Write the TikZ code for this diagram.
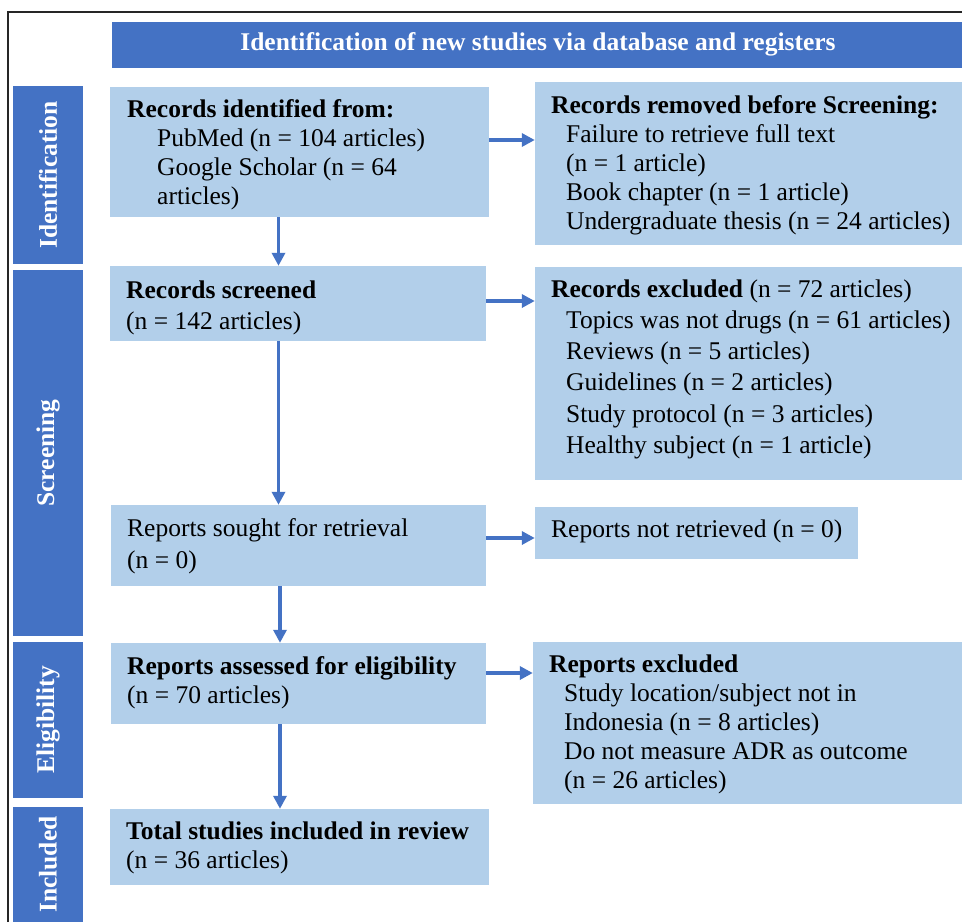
\documentclass[tikz,border=0pt]{standalone}
\usepackage{fontspec}
\setmainfont{Liberation Serif}
\usetikzlibrary{arrows.meta}
\definecolor{dblue}{HTML}{4472C4}
\definecolor{lblue}{RGB}{178,207,234}
\newcommand{\ind}[1]{\hspace*{#1pt}}
\newcommand{\fs}[1]{\fontsize{25.5}{#1}\selectfont}
\begin{document}
\begin{tikzpicture}[x=1pt,y=-1pt,
  lbox/.style={draw=none,fill=lblue,inner sep=0pt},
  dbox/.style={draw=none,fill=dblue,inner sep=0pt,minimum width=70pt},
  side/.style={text=white,font=\fs{29}\bfseries,rotate=90,inner sep=0pt},
  txt/.style={anchor=base west,inner sep=0pt,align=left},
  arr/.style={draw=dblue,line width=3.5pt,-{Triangle[length=13pt,width=13pt]}}]
\useasboundingbox (0,0) rectangle (962,922);
\fill[white] (0,0) rectangle (962,922);
% frame
\draw[line width=2pt,black!85] (8,922) -- (8,12) -- (962,12);
% header
\node[dbox,minimum width=850pt,minimum height=46pt] (hdr) at (537,45) {};
\node[text=white,font=\fs{29}\bfseries,inner sep=0pt] (hdrt) at (538,44) {Identification of new studies via database and registers};
% side bars
\node[dbox,minimum height=178pt] (s1) at (48,175) {};
\node[dbox,minimum height=366pt] (s2) at (48,453) {};
\node[dbox,minimum height=156pt] (s3) at (48,720) {};
\node[dbox,minimum height=115pt] (s4) at (48,864.5) {};
\node[side] (s1t) at (48,175) {Identification};
\node[side] (s2t) at (48,453) {Screening};
\node[side] (s3t) at (48,720) {Eligibility};
\node[side] (s4t) at (48,864.5) {Included};
% left boxes
\node[lbox,minimum width=379pt,minimum height=130pt] (b1) at (299.5,152) {};
\node[lbox,minimum width=376pt,minimum height=75pt] (b2) at (298,303.5) {};
\node[lbox,minimum width=375pt,minimum height=81pt] (b3) at (298.5,545.5) {};
\node[lbox,minimum width=375pt,minimum height=81pt] (b4) at (298.5,683.5) {};
\node[lbox,minimum width=379pt,minimum height=76pt] (b5) at (299.5,847) {};
% right boxes
\node[lbox,minimum width=427pt,minimum height=163pt] (r1) at (748.5,163.5) {};
\node[lbox,minimum width=427pt,minimum height=213pt] (r2) at (748.5,373.5) {};
\node[lbox,minimum width=323pt,minimum height=52pt] (r3) at (696.5,533) {};
\node[lbox,minimum width=429pt,minimum height=162pt] (r4) at (747.5,723) {};
% texts
\node[txt] (t1) at (127,117) {\fs{29}\begin{tabular}[t]{@{}l@{}}
\textbf{Records identified from:}\\
\ind{30}PubMed (n = 104 articles)\\
\ind{30}Google Scholar (n = 64\\
\ind{30}articles)\end{tabular}};
\node[txt] (t2) at (126,298) {\fs{31}\begin{tabular}[t]{@{}l@{}}
\textbf{Records screened}\\
(n = 142 articles)\end{tabular}};
\node[txt] (t3) at (127,536) {\fs{32}\begin{tabular}[t]{@{}l@{}}
Reports sought for retrieval\\
(n = 0)\end{tabular}};
\node[txt] (t4) at (127,674) {\fs{29}\begin{tabular}[t]{@{}l@{}}
\textbf{Reports assessed for eligibility}\\
(n = 70 articles)\end{tabular}};
\node[txt] (t5) at (126,839) {\fs{29}\begin{tabular}[t]{@{}l@{}}
\textbf{Total studies included in review}\\
(n = 36 articles)\end{tabular}};
\node[txt] (rt1) at (551,113) {\fs{29}\begin{tabular}[t]{@{}l@{}}
\textbf{Records removed before Screening:}\\
\ind{15}Failure to retrieve full text\\
\ind{15}(n = 1 article)\\
\ind{15}Book chapter (n = 1 article)\\
\ind{15}Undergraduate thesis (n = 24 articles)\end{tabular}};
\node[txt] (rt2) at (551,297) {\fs{31.3}\begin{tabular}[t]{@{}l@{}}
\textbf{Records excluded} (n = 72 articles)\\
\ind{15}Topics was not drugs (n = 61 articles)\\
\ind{15}Reviews (n = 5 articles)\\
\ind{15}Guidelines (n = 2 articles)\\
\ind{15}Study protocol (n = 3 articles)\\
\ind{15}Healthy subject (n = 1 article)\end{tabular}};
\node[txt] (rt3) at (551,537) {\fs{29}Reports not retrieved (n = 0)};
\node[txt] (rt4) at (549,672) {\fs{29}\begin{tabular}[t]{@{}l@{}}
\textbf{Reports excluded}\\
\ind{15}Study location/subject not in\\
\ind{15}Indonesia (n = 8 articles)\\
\ind{15}Do not measure ADR as outcome\\
\ind{15}(n = 26 articles)\end{tabular}};
% vertical arrows
\draw[arr] ([xshift=-21pt]b1.south) -- ([xshift=-21pt]b1.south |- b2.north);
\draw[arr] ([xshift=-19.5pt]b2.south) -- ([xshift=-19.5pt]b2.south |- b3.north);
\draw[arr] ([xshift=-18.5pt]b3.south) -- ([xshift=-18.5pt]b3.south |- b4.north);
\draw[arr] ([xshift=-18.5pt]b4.south) -- ([xshift=-18.5pt]b4.south |- b5.north);
% horizontal arrows
\draw[arr] ([yshift=12pt]b1.east) -- ([yshift=12pt]b1.east -| r1.west);
\draw[arr] ([yshift=2.5pt]b2.east) -- ([yshift=2.5pt]b2.east -| r2.west);
\draw[arr] ([yshift=7.5pt]b3.east) -- ([yshift=7.5pt]b3.east -| r3.west);
\draw[arr] ([yshift=10.5pt]b4.east) -- ([yshift=10.5pt]b4.east -| r4.west);
\end{tikzpicture}
\end{document}
